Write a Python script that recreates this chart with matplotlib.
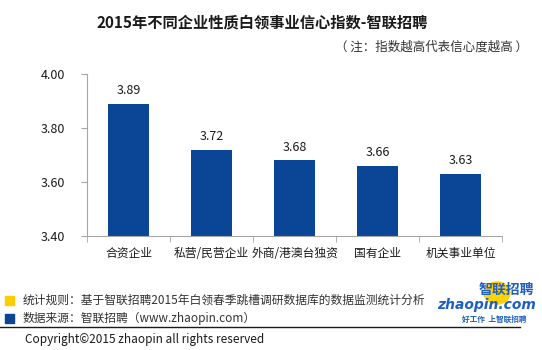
import matplotlib.pyplot as plt
from matplotlib.patches import Rectangle, Ellipse
from matplotlib.lines import Line2D

plt.rcParams['font.family'] = ['Noto Sans CJK SC', 'DejaVu Sans']

categories = ['合资企业', '私营/民营企业', '外商/港澳台独资', '国有企业', '机关事业单位']
values = [3.89, 3.72, 3.68, 3.66, 3.63]
yticks = [3.40, 3.60, 3.80, 4.00]

bar_color = '#0B4595'
axis_color = '#A6A6A6'

fig = plt.figure(figsize=(5.42, 3.5), dpi=100)
ax = fig.add_axes([0.1605, 0.3257, 0.7657, 0.4629])

x = range(len(categories))
ax.bar(x, values, width=0.5, color=bar_color, zorder=2)
for i, v in zip(x, values):
    ax.text(i, v + 0.025, f'{v:.2f}', ha='center', va='bottom', fontsize=9, color='#1a1a1a')

ax.set_xlim(-0.5, len(categories) - 0.5)
ax.set_ylim(3.40, 4.00)
ax.set_yticks(yticks)
ax.set_yticklabels([f'{t:.2f}' for t in yticks], fontsize=9, color='#1a1a1a')
ax.set_xticks(list(x))
ax.set_xticklabels(categories, fontsize=8.5, color='#1a1a1a')
ax.tick_params(axis='x', length=0, pad=8)
ax.tick_params(axis='y', length=4, color=axis_color, pad=12)
# category boundary ticks
ax.set_xticks([i + 0.5 for i in range(-1, len(categories))], minor=True)
ax.tick_params(axis='x', which='minor', length=4, color=axis_color)

for s in ['top', 'right']:
    ax.spines[s].set_visible(False)
for s in ['left', 'bottom']:
    ax.spines[s].set_color(axis_color)
    ax.spines[s].set_linewidth(0.8)

# title and note
fig.text(0.484, 0.935, '2015年不同企业性质白领事业信心指数-智联招聘', ha='center', va='center',
         fontsize=11, fontweight='bold', color='#1a1a1a')
fig.text(0.975, 0.864, '（ 注：指数越高代表信心度越高 ）', ha='right', va='center',
         fontsize=9, color='#333333')

# footer legend
fig.patches.append(Rectangle((5 / 542, 1 - 305 / 350), 9 / 542, 9 / 350,
                             transform=fig.transFigure, color='#FFCC00'))
fig.patches.append(Rectangle((5 / 542, 1 - 323 / 350), 9 / 542, 9 / 350,
                             transform=fig.transFigure, color=bar_color))
fig.text(23 / 542, 1 - 300 / 350, '统计规则：基于智联招聘2015年白领春季跳槽调研数据库的数据监测统计分析',
         ha='left', va='center', fontsize=8.5, color='#333333')
fig.text(23 / 542, 1 - 318 / 350, '数据来源：智联招聘（www.zhaopin.com）',
         ha='left', va='center', fontsize=8.5, color='#333333')
fig.lines.append(Line2D([0, 520 / 542], [1 - 327 / 350] * 2, transform=fig.transFigure,
                        color='#1a1a1a', linewidth=1))
fig.text(25 / 542, 1 - 340 / 350, 'Copyright©2015 zhaopin all rights reserved',
         ha='left', va='center', fontsize=8.5, color='#1a1a1a')

# logo
fig.patches.append(Ellipse((497 / 542, 1 - 293 / 350), 26 / 542, 22 / 350,
                           transform=fig.transFigure, color='#FFD200', zorder=0))
fig.text(534 / 542, 1 - 290 / 350, '智联招聘', ha='right', va='center', fontsize=10,
         fontweight='bold', color='#1F5FC0', style='italic')
fig.text(536 / 542, 1 - 305 / 350, 'zhaopin.com', ha='right', va='center', fontsize=10,
         fontweight='bold', color='#1F5FC0', style='italic', family=['DejaVu Sans'])
fig.text(527 / 542, 1 - 319 / 350, '好工作  上智联招聘', ha='right', va='center', fontsize=5.5,
         fontweight='bold', color='#1F5FC0', style='italic')

fig.savefig('out.png', dpi=100)
